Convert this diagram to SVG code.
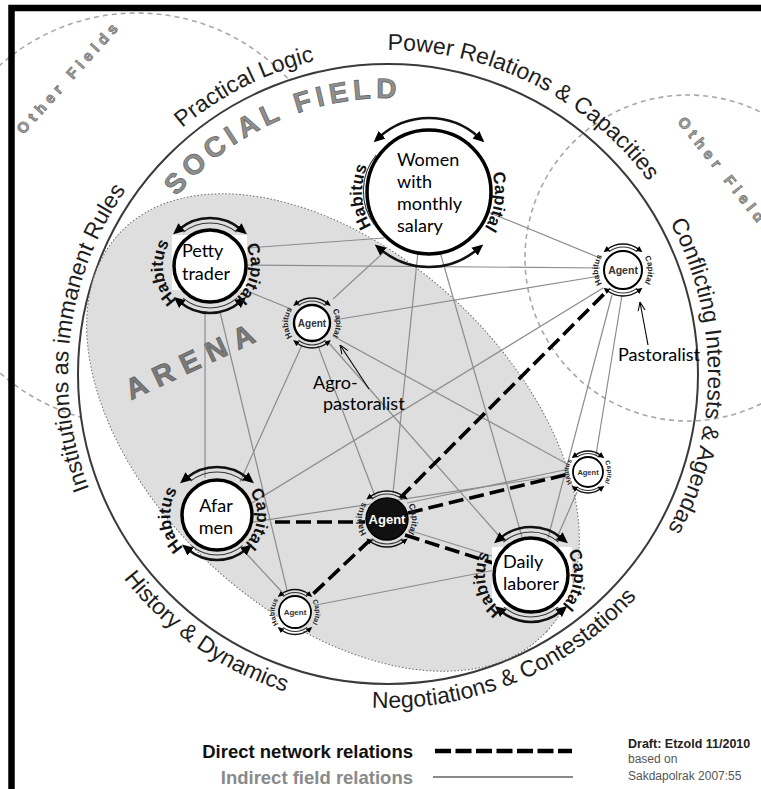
<svg xmlns="http://www.w3.org/2000/svg" width="761" height="789" viewBox="0 0 761 789">
  <defs>
    <marker id="ah" viewBox="0 0 10 10" refX="3" refY="5" markerWidth="4.5" markerHeight="4.5" orient="auto-start-reverse">
      <path d="M0,0.5 L10,5 L0,9.5 z" fill="#000"/>
    </marker>
    <marker id="pt" viewBox="0 0 10 10" refX="10" refY="5" markerWidth="9" markerHeight="9" markerUnits="userSpaceOnUse" orient="auto">
      <path d="M0,1 L10,5 L0,9" fill="none" stroke="#000" stroke-width="1.2"/>
    </marker>
    <style>
      .ring { fill: #fff; stroke: #000; stroke-width: 3.5; }
      .arc { fill: none; stroke: #111; stroke-width: 2.5; marker-start: url(#ah); marker-end: url(#ah); }
      .arc-s { fill: none; stroke: #111; stroke-width: 1.4; marker-start: url(#ah); marker-end: url(#ah); }
      .arc-in { fill: none; stroke: #333; stroke-width: 1.1; }
      .lbl-big { font-family: "Liberation Sans", Arial, sans-serif; font-weight: bold; font-size: 17px; fill: #111; }
      .lbl-sm { font-family: "Liberation Sans", Arial, sans-serif; font-weight: bold; fill: #222; }
      .name { font-family: Lato, "Open Sans", sans-serif; font-size: 18px; fill: #000; }
      .field { font-family: "Liberation Sans", Arial, sans-serif; font-size: 23px; fill: #1e1e1e; }
      .other { font-family: "Liberation Sans", Arial, sans-serif; font-weight: bold; font-size: 15px; letter-spacing: 5px; fill: #a4a4a4; stroke: #6e6e6e; stroke-width: 0.7; }
      .ind { stroke: #8c8c8c; stroke-width: 1.2; fill: none; }
      .dir { stroke: #000; stroke-width: 3.6; stroke-dasharray: 15 6; fill: none; }
      .agent { font-family: "Liberation Sans", Arial, sans-serif; font-weight: bold; fill: #333; text-anchor: middle; }
    </style>
    <!-- text paths for the field labels (clockwise: tops outward) -->
    <path id="p-inst" d="M135.8,571 A320,320 0 0 1 191,121.8"/>
    <path id="p-prac" d="M136.3,175.7 A322,322 0 0 1 380.1,52.1"/>
    <path id="p-power" d="M341.3,53.4 A324,324 0 0 1 673.3,220.4"/>
    <path id="p-confl" d="M634.6,170 A320,320 0 0 1 631.7,581.4"/>
    <!-- counter-clockwise paths along the lower rim -->
    <path id="p-nego" d="M316.9,700.3 A334,334 0 0 0 670.3,552.5"/>
    <path id="p-hist" d="M85.1,514.6 A334,334 0 0 0 358.3,706.7"/>
    <path id="p-social" d="M123.2,296.1 A276,276 0 0 1 510.7,126.8"/>
    <!-- label arcs of the actor rings -->
    <path id="w-hab" d="M400.1,251.3 A65,65 0 0 1 392.1,137.3"/>
    <path id="w-cap" d="M469.6,140 A66,66 0 0 1 453.7,253.2"/>
    <path id="p-hab" d="M192.4,309.6 A47,47 0 0 1 181.1,228.9"/>
    <path id="p-cap" d="M236.4,234.6 A41,41 0 0 1 224,304.5"/>
    <path id="a-hab" d="M198.3,557.9 A47,47 0 0 1 189.4,477"/>
    <path id="a-cap" d="M240,482.2 A40,40 0 0 1 233.9,551.3"/>
    <path id="d-hab" d="M517.1,618.8 A46,46 0 0 1 500.2,540.8"/>
    <path id="d-cap" d="M556.3,540.2 A43,43 0 0 1 548.5,614.3"/>
    <path id="b-hab" d="M374.5,540.65 A25,25 0 0 1 374.5,497.35"/>
    <path id="b-cap" d="M399.5,497.35 A25,25 0 0 1 399.5,540.65"/>
    <path id="ap-hab" d="M300,343.8 A24,24 0 0 1 300,302.2"/>
    <path id="ap-cap" d="M324,302.2 A24,24 0 0 1 324,343.8"/>
    <path id="pa-hab" d="M610.5,291.65 A25,25 0 0 1 610.5,248.35"/>
    <path id="pa-cap" d="M635.5,248.35 A25,25 0 0 1 635.5,291.65"/>
    <path id="ra-hab" d="M578.25,488.9 A19.5,19.5 0 0 1 578.25,455.1"/>
    <path id="ra-cap" d="M597.75,455.1 A19.5,19.5 0 0 1 597.75,488.9"/>
    <path id="ba-hab" d="M284.75,629.75 A20.5,20.5 0 0 1 284.75,594.25"/>
    <path id="ba-cap" d="M305.25,594.25 A20.5,20.5 0 0 1 305.25,629.75"/>
  </defs>

  <rect width="761" height="789" fill="#fff"/>

  <!-- neighbouring field, upper left (only visible outside the social field) -->
  <circle cx="137" cy="219" r="206" fill="none" stroke="#a8a8a8" stroke-width="1.6" stroke-dasharray="5 4"/>

  <!-- social field -->
  <circle id="social-field" cx="388" cy="374" r="310" fill="#fff" stroke="#3a3a3a" stroke-width="2"/>

  <!-- neighbouring field, right -->
  <circle cx="688" cy="258" r="163" fill="none" stroke="#a8a8a8" stroke-width="1.6" stroke-dasharray="5 4"/>

  <!-- arena -->
  <ellipse id="arena" cx="333" cy="432.5" rx="292" ry="180" transform="rotate(43 333 432.5)" fill="#dedede" stroke="#6a6a6a" stroke-width="1" stroke-dasharray="1.5 2"/>

  <text class="other" transform="translate(72.7,80.3) rotate(-48)" text-anchor="middle">Other Fields</text>
  <text class="other" transform="translate(677,122) rotate(51.6)">Other Fields</text>

  <text font-family="'Liberation Sans', Arial, sans-serif" font-weight="bold" font-size="28" letter-spacing="5" fill="#8f8f8f" stroke="#5e5e5e" stroke-width="0.7"><textPath href="#p-social" startOffset="50%" text-anchor="middle">SOCIAL FIELD</textPath></text>
  <text font-family="'Liberation Sans', Arial, sans-serif" font-weight="bold" font-size="29" letter-spacing="9" fill="#7a7a7a" stroke="#555" stroke-width="0.6" transform="translate(198,369) rotate(-25)" text-anchor="middle">ARENA</text>

  <!-- field dimensions -->
  <text class="field"><textPath href="#p-inst" startOffset="50%" text-anchor="middle">Institutions as immanent Rules</textPath></text>
  <text class="field"><textPath href="#p-prac" startOffset="50%" text-anchor="middle">Practical Logic</textPath></text>
  <text class="field"><textPath href="#p-power" startOffset="50%" text-anchor="middle">Power Relations &amp; Capacities</textPath></text>
  <text class="field"><textPath href="#p-confl" startOffset="50%" text-anchor="middle">Conflicting Interests &amp; Agendas</textPath></text>
  <text class="field"><textPath href="#p-nego" startOffset="50%" text-anchor="middle">Negotiations &amp; Contestations</textPath></text>
  <text class="field"><textPath href="#p-hist" startOffset="50%" text-anchor="middle">History &amp; Dynamics</textPath></text>

  <!-- relations -->
  <g id="connectors">
    <line class="ind" x1="247" y1="248" x2="384" y2="238"/>
    <line class="ind" x1="247" y1="265" x2="600" y2="268"/>
    <line class="ind" x1="247" y1="291" x2="291" y2="309"/>
    <line class="ind" x1="205" y1="311" x2="205" y2="478"/>
    <line class="ind" x1="220" y1="312" x2="287" y2="590"/>
    <line class="ind" x1="383" y1="253" x2="333" y2="299"/>
    <line class="ind" x1="488" y1="212" x2="600" y2="258"/>
    <line class="ind" x1="418" y1="252" x2="393" y2="493"/>
    <line class="ind" x1="440" y1="252" x2="522" y2="537"/>
    <line class="ind" x1="334" y1="320" x2="600" y2="276"/>
    <line class="ind" x1="333" y1="336" x2="569" y2="465"/>
    <line class="ind" x1="328" y1="342" x2="500" y2="537"/>
    <line class="ind" x1="318" y1="346" x2="375" y2="496"/>
    <line class="ind" x1="302" y1="345" x2="240" y2="482"/>
    <line class="ind" x1="603" y1="288" x2="252" y2="503"/>
    <line class="ind" x1="622" y1="295" x2="596" y2="455"/>
    <line class="ind" x1="612" y1="295" x2="548" y2="538"/>
    <line class="ind" x1="253" y1="522" x2="569" y2="474"/>
    <line class="ind" x1="243" y1="550" x2="282" y2="592"/>
    <line class="ind" x1="407" y1="503" x2="569" y2="469"/>
    <line class="ind" x1="408" y1="530" x2="495" y2="557"/>
    <line class="ind" x1="316" y1="605" x2="495" y2="570"/>
    <line class="ind" x1="577" y1="492" x2="556" y2="540"/>
    <line class="dir" x1="275" y1="522" x2="365" y2="522"/>
    <line class="dir" x1="400" y1="498" x2="607" y2="291"/>
    <line class="dir" x1="408" y1="513" x2="569" y2="474"/>
    <line class="dir" x1="405" y1="535" x2="493" y2="563"/>
    <line class="dir" x1="370" y1="540" x2="312" y2="595"/>
  </g>

  <!-- women with monthly salary -->
  <g id="node-women">
    <circle class="ring" cx="429" cy="192" r="62"/>
    <path class="arc-in" d="M374.5,224.9 A57,57 0 0 1 376.2,155"/>
    <path class="arc" d="M379.5,137 A74,74 0 0 1 478.5,137"/>
    <path class="arc" d="M380.8,249.5 A75,75 0 0 0 477.2,249.5"/>
    <text class="lbl-big" font-size="23"><textPath href="#w-hab" startOffset="50%" text-anchor="middle">Habitus</textPath></text>
    <text class="lbl-big" font-size="23"><textPath href="#w-cap" startOffset="50%" text-anchor="middle">Capital</textPath></text>
    <text class="name" x="397" y="166">Women</text>
    <text class="name" x="397" y="188">with</text>
    <text class="name" x="397" y="210">monthly</text>
    <text class="name" x="397" y="232">salary</text>
  </g>

  <!-- petty trader -->
  <g id="node-petty-trader">
    <rect x="172" y="235" width="75" height="55" fill="#fff"/>
    <path class="arc-in" d="M183.5,232.1 A43,43 0 0 1 236.5,232.1"/>
    <path class="arc-in" d="M183,298.2 A42,42 0 0 0 237,298.2"/>
    <path class="arc" d="M179.1,229.2 A48,48 0 0 1 240.9,229.2"/>
    <path class="arc" d="M179.8,302 A47,47 0 0 0 240.2,302"/>
    <circle class="ring" cx="210" cy="266" r="36"/>
    <text class="lbl-big"><textPath href="#p-hab" startOffset="50%" text-anchor="middle">Habitus</textPath></text>
    <text class="lbl-big"><textPath href="#p-cap" startOffset="50%" text-anchor="middle">Capital</textPath></text>
    <text class="name" x="182" y="257">Petty</text>
    <text class="name" x="182" y="280">trader</text>
  </g>

  <!-- agro-pastoralist -->
  <g id="node-agro-pastoralist">
    <path class="arc-in" d="M298.5,305.7 A22,22 0 0 1 325.5,305.7"/>
    <path class="arc-in" d="M298.5,340.3 A22,22 0 0 0 325.5,340.3"/>
    <path class="arc-s" d="M296.6,303.3 A25,25 0 0 1 327.4,303.3"/>
    <path class="arc-s" d="M296.6,342.7 A25,25 0 0 0 327.4,342.7"/>
    <circle cx="312" cy="323" r="18" fill="#fff" stroke="#000" stroke-width="2.4"/>
    <text class="agent" x="312" y="326.5" font-size="10">Agent</text>
    <text class="lbl-sm" font-size="8"><textPath href="#ap-hab" startOffset="50%" text-anchor="middle">Habitus</textPath></text>
    <text class="lbl-sm" font-size="8"><textPath href="#ap-cap" startOffset="50%" text-anchor="middle">Capital</textPath></text>
  </g>

  <!-- pastoralist -->
  <g id="node-pastoralist">
    <path class="arc-in" d="M608.8,251.9 A23,23 0 0 1 637.2,251.9"/>
    <path class="arc-in" d="M608.8,288.1 A23,23 0 0 0 637.2,288.1"/>
    <path class="arc-s" d="M607,249.5 A26,26 0 0 1 639,249.5"/>
    <path class="arc-s" d="M607,290.5 A26,26 0 0 0 639,290.5"/>
    <circle cx="623" cy="270" r="19" fill="#fff" stroke="#000" stroke-width="2"/>
    <text class="agent" x="623" y="273.5" font-size="10.5">Agent</text>
    <text class="lbl-sm" font-size="8"><textPath href="#pa-hab" startOffset="50%" text-anchor="middle">Habitus</textPath></text>
    <text class="lbl-sm" font-size="8"><textPath href="#pa-cap" startOffset="50%" text-anchor="middle">Capital</textPath></text>
  </g>

  <!-- afar men -->
  <g id="node-afar-men">
    <path class="arc-in" d="M190.5,481.1 A43,43 0 0 1 243.5,481.1"/>
    <path class="arc-in" d="M191.3,545.6 A40,40 0 0 0 242.7,545.6"/>
    <path class="arc" d="M186.1,478.2 A48,48 0 0 1 247.9,478.2"/>
    <path class="arc" d="M188.1,549.5 A45,45 0 0 0 245.9,549.5"/>
    <circle class="ring" cx="217" cy="515" r="35"/>
    <text class="lbl-big"><textPath href="#a-hab" startOffset="50%" text-anchor="middle">Habitus</textPath></text>
    <text class="lbl-big"><textPath href="#a-cap" startOffset="50%" text-anchor="middle">Capital</textPath></text>
    <text class="name" x="216" y="512" text-anchor="middle">Afar</text>
    <text class="name" x="216" y="534" text-anchor="middle">men</text>
  </g>

  <!-- central agent -->
  <g id="node-agent-center">
    <path class="arc-in" d="M371.6,499.3 A25,25 0 0 1 402.4,499.3"/>
    <path class="arc-in" d="M371.6,538.7 A25,25 0 0 0 402.4,538.7"/>
    <path class="arc-s" d="M369.8,496.9 A28,28 0 0 1 404.2,496.9" stroke-width="1.7"/>
    <path class="arc-s" d="M369.8,541.1 A28,28 0 0 0 404.2,541.1" stroke-width="1.7"/>
    <circle cx="387" cy="519" r="21" fill="#111" stroke="#000" stroke-width="1.5"/>
    <text class="agent" x="387" y="523.5" font-size="13" style="fill:#fff">Agent</text>
    <text class="lbl-sm" font-size="8.5"><textPath href="#b-hab" startOffset="50%" text-anchor="middle">Habitus</textPath></text>
    <text class="lbl-sm" font-size="8.5"><textPath href="#b-cap" startOffset="50%" text-anchor="middle">Capital</textPath></text>
  </g>

  <!-- agent near the arena edge -->
  <g id="node-agent-right">
    <path class="arc-in" d="M576.6,457.4 A18.5,18.5 0 0 1 599.4,457.4"/>
    <path class="arc-in" d="M576.6,486.6 A18.5,18.5 0 0 0 599.4,486.6"/>
    <path class="arc-s" d="M575.1,455.5 A21,21 0 0 1 600.9,455.5" stroke-width="1.2"/>
    <path class="arc-s" d="M575.1,488.5 A21,21 0 0 0 600.9,488.5" stroke-width="1.2"/>
    <circle cx="588" cy="472" r="15" fill="#fff" stroke="#000" stroke-width="1.8"/>
    <text class="agent" x="588" y="474.7" font-size="7.5">Agent</text>
    <text class="lbl-sm" font-size="6.5"><textPath href="#ra-hab" startOffset="50%" text-anchor="middle">Habitus</textPath></text>
    <text class="lbl-sm" font-size="6.5"><textPath href="#ra-cap" startOffset="50%" text-anchor="middle">Capital</textPath></text>
  </g>

  <!-- agent at the lower arena edge -->
  <g id="node-agent-bottom">
    <path class="arc-in" d="M283,596.6 A19.5,19.5 0 0 1 307,596.6"/>
    <path class="arc-in" d="M283,627.4 A19.5,19.5 0 0 0 307,627.4"/>
    <path class="arc-s" d="M281.15,594.27 A22.5,22.5 0 0 1 308.85,594.27" stroke-width="1.2"/>
    <path class="arc-s" d="M281.15,629.73 A22.5,22.5 0 0 0 308.85,629.73" stroke-width="1.2"/>
    <circle cx="295" cy="612" r="16" fill="#fff" stroke="#000" stroke-width="1.8"/>
    <text class="agent" x="295" y="614.8" font-size="8">Agent</text>
    <text class="lbl-sm" font-size="7"><textPath href="#ba-hab" startOffset="50%" text-anchor="middle">Habitus</textPath></text>
    <text class="lbl-sm" font-size="7"><textPath href="#ba-cap" startOffset="50%" text-anchor="middle">Capital</textPath></text>
  </g>

  <!-- daily laborer -->
  <g id="node-daily-laborer">
    <rect x="492" y="547" width="80" height="60" fill="#fff"/>
    <path class="arc-in" d="M503.4,542.1 A43,43 0 0 1 558.6,542.1"/>
    <path class="arc-in" d="M504,607.2 A42,42 0 0 0 558,607.2"/>
    <path class="arc" d="M500.1,538.2 A48,48 0 0 1 561.9,538.2"/>
    <path class="arc" d="M500.8,611 A47,47 0 0 0 561.2,611"/>
    <circle class="ring" cx="531" cy="575" r="37"/>
    <text class="lbl-big"><textPath href="#d-hab" startOffset="50%" text-anchor="middle">Habitus</textPath></text>
    <text class="lbl-big"><textPath href="#d-cap" startOffset="50%" text-anchor="middle">Capital</textPath></text>
    <text class="name" x="503" y="568">Daily</text>
    <text class="name" x="503" y="590">laborer</text>
  </g>

  <!-- callouts -->
  <g id="callouts">
    <line x1="369" y1="389" x2="340" y2="345" stroke="#000" stroke-width="1.1" marker-end="url(#pt)"/>
    <text class="name" x="313" y="389" font-size="17">Agro-</text>
    <text class="name" x="323" y="410" font-size="17">pastoralist</text>
    <line x1="648" y1="345" x2="640" y2="302" stroke="#000" stroke-width="1.1" marker-end="url(#pt)"/>
    <text class="name" x="618" y="361" font-size="17">Pastoralist</text>
  </g>

  <!-- legend -->
  <g id="legend" font-family="'Liberation Sans', Arial, sans-serif">
    <text x="413" y="758" text-anchor="end" font-weight="bold" font-size="18.5" fill="#111">Direct network relations</text>
    <text x="413" y="784" text-anchor="end" font-weight="bold" font-size="18.5" fill="#8a8a8a">Indirect field relations</text>
    <line x1="435" y1="751" x2="572" y2="751" stroke="#000" stroke-width="4.5" stroke-dasharray="16 4.5"/>
    <line x1="433" y1="777" x2="573" y2="777" stroke="#8a8a8a" stroke-width="2"/>
    <text x="628" y="748" font-weight="bold" font-size="12.5" fill="#222">Draft: Etzold 11/2010</text>
    <text x="628" y="763" font-size="12" fill="#555">based on</text>
    <text x="628" y="780" font-size="12" fill="#555">Sakdapolrak 2007:55</text>
  </g>

  <!-- frame -->
  <path d="M11.5,789 V8 H761" fill="none" stroke="#000" stroke-width="6.5"/>
</svg>
